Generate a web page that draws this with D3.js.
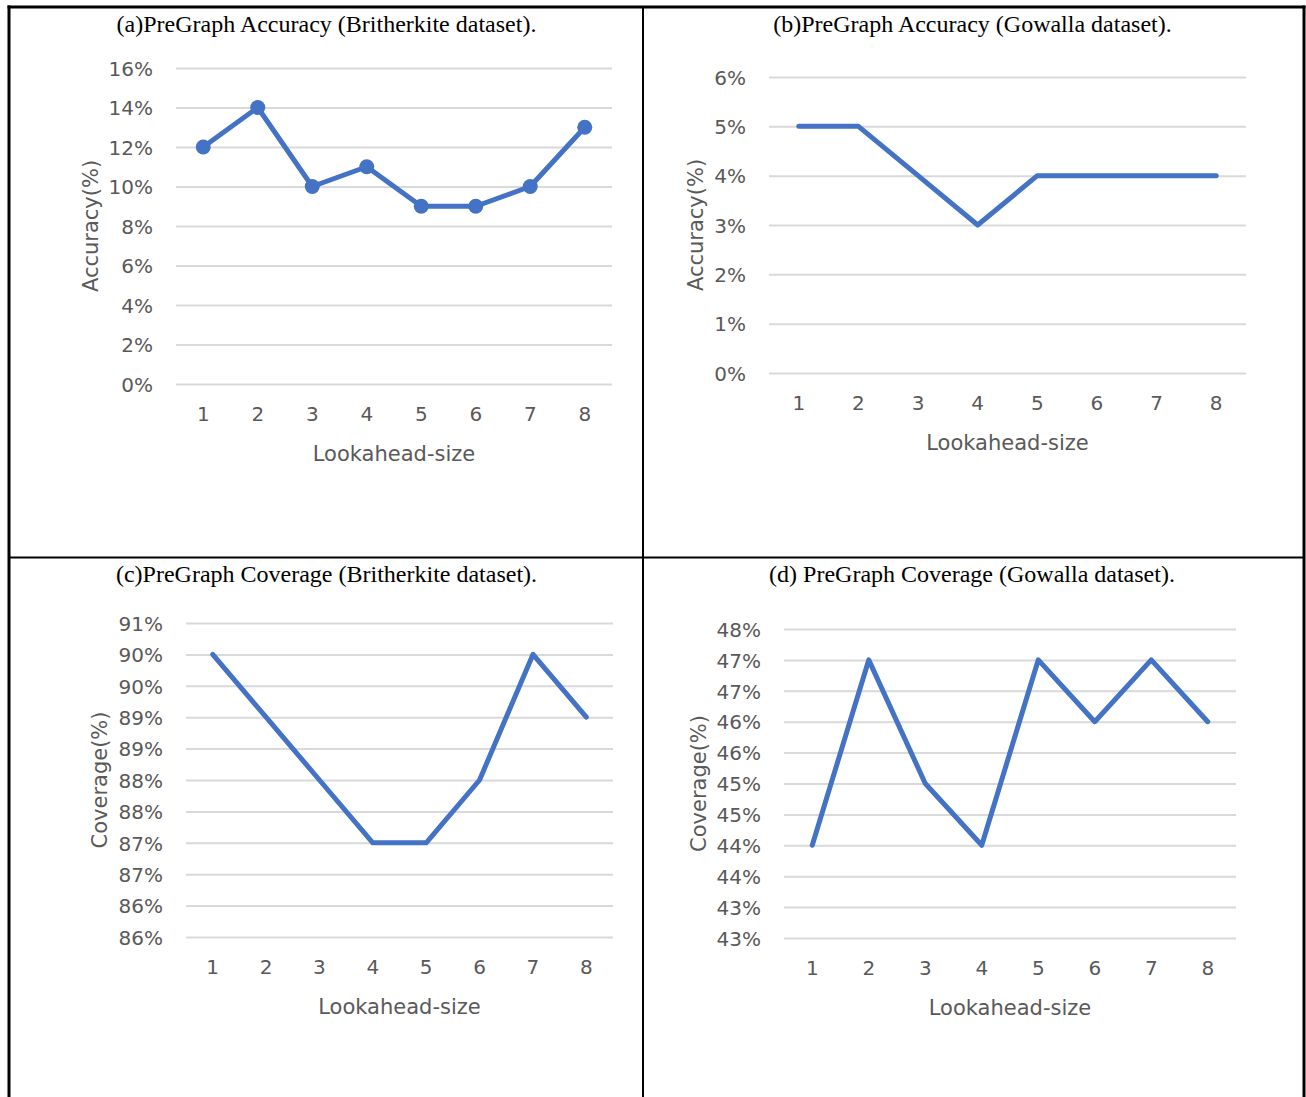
<!DOCTYPE html>
<html>
<head>
<meta charset="utf-8">
<script src="https://cdn.jsdelivr.net/npm/d3@7"></script>
<style>
  body { margin: 0; background: #fff; }
  svg { display: block; }
  .tick text { fill: #595959; font-family: "DejaVu Sans", sans-serif; font-size: 20px; }
  .ttl { font-family: "Liberation Serif", "Times New Roman", serif; font-size: 24px; fill: #000; }
  .axt { font-family: "DejaVu Sans", sans-serif; font-size: 21px; fill: #595959; }
</style>
</head>
<body>
<svg id="svg"></svg>
<script>
// x categories
const lookahead = [1, 2, 3, 4, 5, 6, 7, 8];

// series (percent)
const accBrightkite = [12, 14, 10, 11, 9, 9, 10, 13];
const accGowalla = [5, 5, 4, 3, 4, 4, 4, 4];
const covBrightkite = [90, 89, 88, 87, 87, 88, 90, 89];
const covGowalla = [44, 47, 45, 44, 47, 46, 47, 46];

// y ticks and their labels, bottom to top
const accBrightTicks = [0, 2, 4, 6, 8, 10, 12, 14, 16];
const accBrightLabels = ["0%", "2%", "4%", "6%", "8%", "10%", "12%", "14%", "16%"];
const accGowTicks = [0, 1, 2, 3, 4, 5, 6];
const accGowLabels = ["0%", "1%", "2%", "3%", "4%", "5%", "6%"];
const covBrightTicks = [85.5, 86, 86.5, 87, 87.5, 88, 88.5, 89, 89.5, 90, 90.5];
const covBrightLabels = ["86%", "86%", "87%", "87%", "88%", "88%", "89%", "89%", "90%", "90%", "91%"];
const covGowTicks = [42.5, 43, 43.5, 44, 44.5, 45, 45.5, 46, 46.5, 47, 47.5];
const covGowLabels = ["43%", "43%", "44%", "44%", "45%", "45%", "46%", "46%", "47%", "47%", "48%"];

const blue = "#4472C4";

let layout = {"width": 1306, "height": 1097};

let svg = d3.select("#svg")
            .attr("width", layout.width)
            .attr("height", layout.height);

// table borders
const borders = [
  [9, 5.5, 9, 1097, 3],
  [1304, 5.5, 1304, 1097, 3],
  [7.5, 7, 1305.5, 7, 3],
  [643, 7, 643, 1097, 2],
  [9, 557.5, 1304, 557.5, 2]
];
svg.selectAll(".border")
   .data(borders)
   .join("line")
   .attr("class", "border")
   .attr("x1", d => d[0]).attr("y1", d => d[1])
   .attr("x2", d => d[2]).attr("y2", d => d[3])
   .attr("stroke", "#000")
   .attr("stroke-width", d => d[4]);

const panels = [
  {title: "(a)PreGraph Accuracy (Britherkite dataset).", titleX: 326.5, titleY: 32,
   left: 176, right: 612, top: 68, bottom: 384,
   values: accBrightkite, ticks: accBrightTicks, labels: accBrightLabels,
   yTitle: "Accuracy(%)", yTitleX: 90, xTitleY: 461, markers: true},
  {title: "(b)PreGraph Accuracy (Gowalla dataset).", titleX: 972.5, titleY: 32,
   left: 769, right: 1246, top: 77, bottom: 373,
   values: accGowalla, ticks: accGowTicks, labels: accGowLabels,
   yTitle: "Accuracy(%)", yTitleX: 695, xTitleY: 450, markers: false},
  {title: "(c)PreGraph Coverage (Britherkite dataset).", titleX: 326.5, titleY: 582,
   left: 186, right: 613, top: 623, bottom: 937,
   values: covBrightkite, ticks: covBrightTicks, labels: covBrightLabels,
   yTitle: "Coverage(%)", yTitleX: 99, xTitleY: 1014, markers: false},
  {title: "(d) PreGraph Coverage (Gowalla dataset).", titleX: 972, titleY: 582,
   left: 784, right: 1236, top: 629, bottom: 938,
   values: covGowalla, ticks: covGowTicks, labels: covGowLabels,
   yTitle: "Coverage(%)", yTitleX: 698, xTitleY: 1015, markers: false}
];

panels.forEach(p => {
  let g = svg.append("g");

  g.append("text")
   .attr("class", "ttl")
   .attr("x", p.titleX)
   .attr("y", p.titleY)
   .attr("text-anchor", "middle")
   .text(p.title);

  let xScale = d3.scaleBand()
                 .domain(lookahead)
                 .range([p.left, p.right]);

  let yScale = d3.scaleLinear()
                 .domain([p.ticks[0], p.ticks[p.ticks.length - 1]])
                 .range([p.bottom, p.top]);

  // y axis with gridlines
  let yAxis = g.append("g")
               .attr("transform", `translate(${p.left},0)`)
               .call(d3.axisLeft(yScale)
                       .tickValues(p.ticks)
                       .tickFormat((d, i) => p.labels[i])
                       .tickSizeInner(-(p.right - p.left))
                       .tickSizeOuter(0)
                       .tickPadding(23));
  yAxis.select(".domain").remove();
  yAxis.selectAll(".tick line").attr("stroke", "#d9d9d9").attr("stroke-width", 2);
  yAxis.selectAll(".tick text").attr("dy", "0.36em");

  let xAxis = g.append("g")
               .attr("transform", `translate(0,${p.bottom})`)
               .call(d3.axisBottom(xScale).tickSize(0).tickPadding(23));
  xAxis.select(".domain").remove();

  g.append("text")
   .attr("class", "axt")
   .attr("x", (p.left + p.right) / 2)
   .attr("y", p.xTitleY)
   .attr("text-anchor", "middle")
   .text("Lookahead-size");

  g.append("text")
   .attr("class", "axt")
   .attr("text-anchor", "middle")
   .attr("dy", "0.36em")
   .attr("transform", `translate(${p.yTitleX},${(p.top + p.bottom) / 2}) rotate(-90)`)
   .text(p.yTitle);

  let line = d3.line()
               .x((d, i) => xScale(lookahead[i]) + xScale.bandwidth() / 2)
               .y(d => yScale(d));

  g.append("path")
   .datum(p.values)
   .attr("d", line)
   .attr("fill", "none")
   .attr("stroke", blue)
   .attr("stroke-width", 5)
   .attr("stroke-linecap", "round")
   .attr("stroke-linejoin", "round");

  if (p.markers) {
    g.selectAll(".pt")
     .data(p.values)
     .join("circle")
     .attr("class", "pt")
     .attr("cx", (d, i) => xScale(lookahead[i]) + xScale.bandwidth() / 2)
     .attr("cy", d => yScale(d))
     .attr("r", 7.5)
     .attr("fill", blue);
  }
});
</script>
</body>
</html>
